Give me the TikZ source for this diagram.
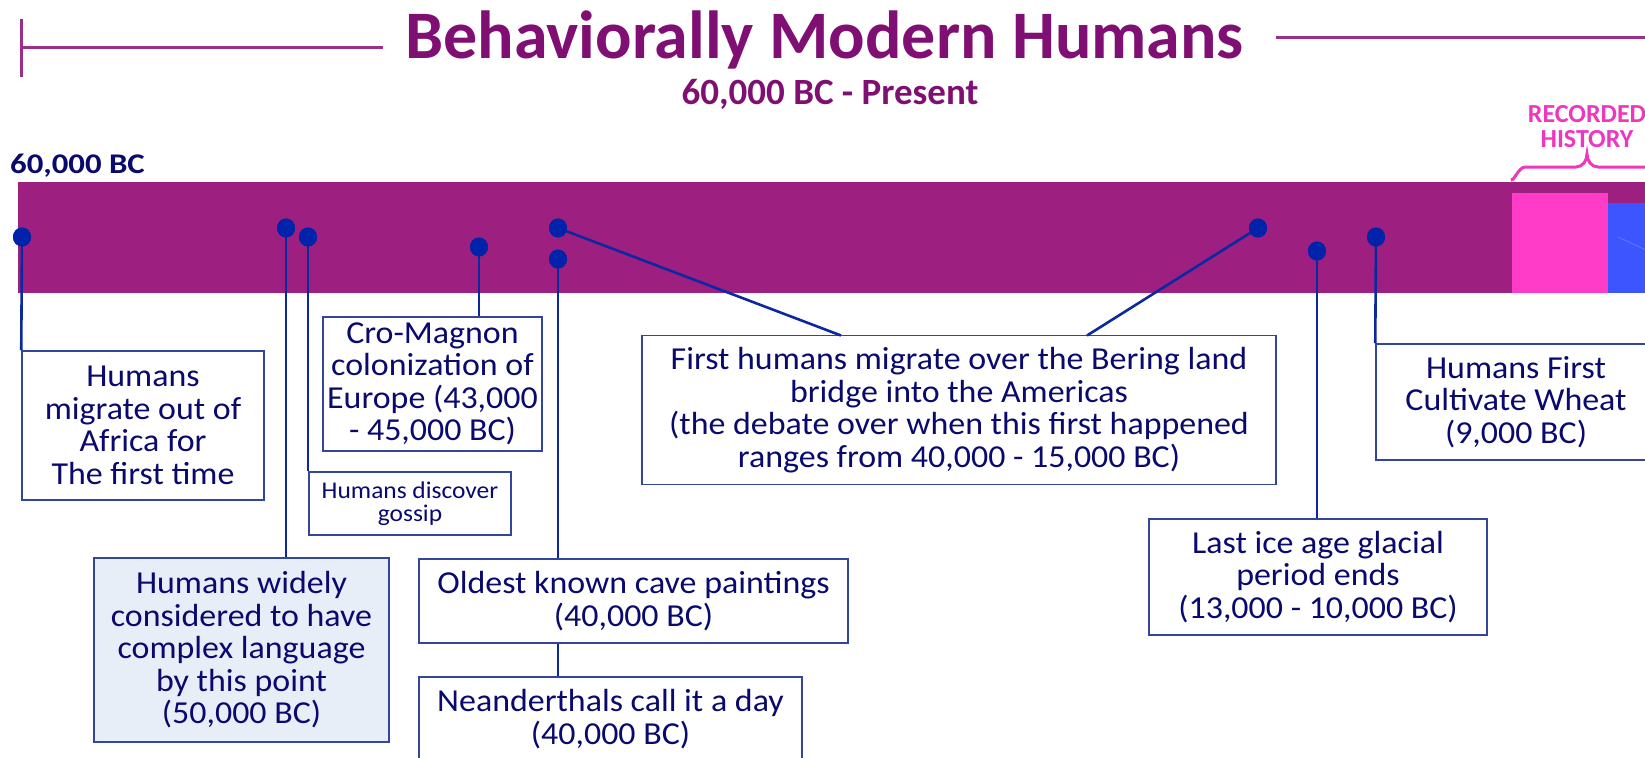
\documentclass[tikz,border=0pt]{standalone}
\usepackage{fontspec}
\setmainfont{Carlito}
\newfontfamily\boxfont[FakeStretch=1.06]{Carlito}
\newfontfamily\headfont{Carlito}
\newfontfamily\startfont[FakeStretch=1.15]{Carlito}
\usetikzlibrary{shapes.geometric}
\definecolor{barc}{RGB}{157,32,128}
\definecolor{pinkc}{RGB}{255,60,200}
\definecolor{bluec}{RGB}{60,85,255}
\definecolor{bracec}{RGB}{236,55,190}
\definecolor{dotc}{RGB}{0,35,170}
\definecolor{connc}{RGB}{12,40,160}
\definecolor{boxc}{RGB}{50,70,160}
\definecolor{navy}{RGB}{10,10,110}
\definecolor{langfill}{RGB}{232,238,248}
\definecolor{titlec}{RGB}{128,15,115}
\definecolor{tlinec}{RGB}{155,45,140}
\tikzset{
  evbox/.style={draw=boxc, line width=1.5pt, text=navy, align=center, inner sep=0pt,
    font=\boxfont\fontsize{32}{32.5}\selectfont},
  conn/.style={draw=connc, line width=2.6pt},
  dotn/.style={ellipse, fill=dotc, inner sep=0pt, minimum width=18pt, minimum height=19pt},
  tline/.style={draw=tlinec, line width=3pt},
}
\begin{document}
\begin{tikzpicture}[x=1pt,y=-1pt]
\clip (0,0) rectangle (1645,757);
\fill[white] (0,0) rectangle (1645,757);
% title
\node[font=\headfont\bfseries\fontsize{68}{70}\selectfont, text=titlec, anchor=base, inner sep=0pt] (title) at (824.5,59) {Behaviorally Modern Humans};
\node[font=\headfont\bfseries\fontsize{37}{38}\selectfont, text=titlec, anchor=base, inner sep=0pt] (sub) at (830,105) {60,000 BC - Present};
\coordinate (tla) at (21,19);
\coordinate (tlb) at (21,77);
\coordinate (tlc) at (21,48);
\coordinate (tld) at (383,48);
\coordinate (tre) at (1276,38);
\coordinate (trf) at (1650,38);
\draw[tline] (tla) -- (tlb);
\draw[tline] (tlc) -- (tld);
\draw[tline] (tre) -- (trf);
% start label
\node[font=\startfont\bfseries\fontsize{28.5}{30}\selectfont, text=navy, anchor=base east, inner sep=0pt] (start) at (145,173) {60,000 BC};
% recorded history
\node[font=\headfont\bfseries\fontsize{26}{25}\selectfont, text=bracec, align=center, anchor=base, inner sep=0pt] (rec) at (1587,147) {RECORDED\\HISTORY};
\coordinate (bra) at (1512,178);
\coordinate (brb) at (1525,167);
\coordinate (brc) at (1576,167);
\coordinate (brt) at (1587,154);
\coordinate (brd) at (1598,167);
\coordinate (bre) at (1660,167);
\draw[draw=bracec, line width=3pt] (bra) to[out=-90,in=180] (brb) -- (brc) to[out=0,in=-90] (brt) to[out=-90,in=180] (brd) -- (bre);
% bar
\fill[barc] (18,182) rectangle (1650,293);
\fill[pinkc] (1512,193) rectangle (1608,293);
\fill[bluec] (1608,203) rectangle (1650,293);
\coordinate (fa) at (1618,237);
\coordinate (fb) at (1650,252);
\draw[draw=bluec!80!white, line width=0.8pt] (fa) -- (fb);
% boxes
\node[evbox, minimum width=242pt, minimum height=149pt] (africa) at (143,425.5) {Humans\\migrate out of\\Africa for\\The first time};
\node[evbox, fill=langfill, minimum width=295pt, minimum height=184pt] (lang) at (241.5,650) {Humans widely\\considered to have\\complex language\\by this point\\(50,000 BC)};
\node[evbox, minimum width=202pt, minimum height=63pt, font=\boxfont\fontsize{24}{23}\selectfont] (gossip) at (410,503.5) {Humans discover\\gossip};
\node[evbox, minimum width=219pt, minimum height=134pt] (cro) at (432.5,384) {Cro-Magnon\\colonization of\\Europe (43,000\\- 45,000 BC)};
\node[evbox, minimum width=429pt, minimum height=84pt] (oldest) at (633.5,601) {Oldest known cave paintings\\(40,000 BC)};
\node[evbox, minimum width=383pt, minimum height=84pt] (neander) at (610.5,719) {Neanderthals call it a day\\(40,000 BC)};
\node[evbox, minimum width=634pt, minimum height=149pt] (bering) at (959,410) {First humans migrate over the Bering land\\bridge into the Americas\\(the debate over when this first happened\\ranges from 40,000 - 15,000 BC)};
\node[evbox, minimum width=338pt, minimum height=116pt] (ice) at (1318,577) {Last ice age glacial\\period ends\\(13,000 - 10,000 BC)};
\node[evbox, minimum width=280pt, minimum height=116pt] (wheat) at (1516,402) {Humans First\\Cultivate Wheat\\(9,000 BC)};
% dots
\node[dotn] (d1) at (22,237) {};
\node[dotn] (d2) at (286,228) {};
\node[dotn] (d3) at (308,237) {};
\node[dotn] (d4) at (479,247) {};
\node[dotn] (d5) at (558,228) {};
\node[dotn] (d6) at (558,259) {};
\node[dotn] (d7) at (1258,228) {};
\node[dotn] (d8) at (1317,251) {};
\node[dotn] (d9) at (1376,237) {};
\coordinate (b1) at (841,335.5);
\coordinate (b2) at (1087,335.5);
% connectors
\draw[conn] (d1.center) -- (africa.north west);
\draw[conn] (d2.center) -- (d2.center |- lang.north);
\draw[conn] (d3.center) -- (d3.center |- gossip.north);
\draw[conn] (d4.center) -- (d4.center |- cro.north);
\draw[conn] (d5.center) -- (b1);
\draw[conn] (d6.center) -- (d6.center |- oldest.north);
\draw[conn] (oldest.south -| d6.center) -- (neander.north -| d6.center);
\draw[conn] (d7.center) -- (b2);
\draw[conn] (d8.center) -- (d8.center |- ice.north);
\draw[conn] (d9.center) -- (wheat.north west);
\foreach \d in {d1,d2,d3,d4,d5,d6,d7,d8,d9} {\fill[dotc] (\d.center) ellipse (9pt and 9.5pt);}
\end{tikzpicture}
\end{document}
